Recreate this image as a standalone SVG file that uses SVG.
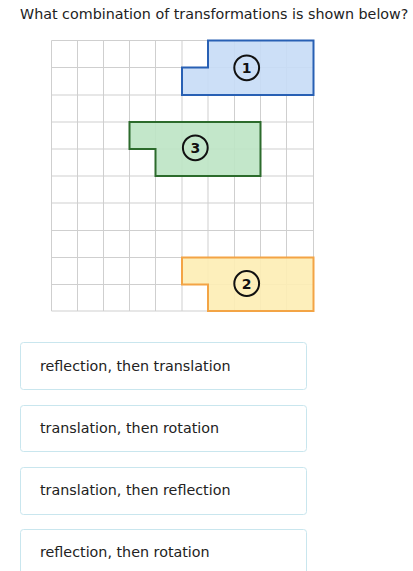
<svg xmlns="http://www.w3.org/2000/svg" width="413" height="571" viewBox="0 0 413 571">
<style>
.t{font-family:"DejaVu Sans",Verdana,sans-serif;font-size:14.3px;fill:#222}
.g line{stroke:#cfcfcf;stroke-width:1}
.lab circle{fill:none;stroke:#111;stroke-width:2}
.lab text{font-family:"DejaVu Sans",Verdana,sans-serif;font-size:14px;font-weight:bold;fill:#111;text-anchor:middle}
.box{fill:#fff;stroke:#c9e6ee;stroke-width:1}
</style>
<rect width="413" height="571" fill="#fff"/>
<text class="t" x="20" y="19">What combination of transformations is shown below?</text>
<g class="g" id="grid">
<line x1="51.5" y1="40.5" x2="51.5" y2="311"/>
<line x1="77.5" y1="40.5" x2="77.5" y2="311"/>
<line x1="103.5" y1="40.5" x2="103.5" y2="311"/>
<line x1="129.5" y1="40.5" x2="129.5" y2="311"/>
<line x1="155.5" y1="40.5" x2="155.5" y2="311"/>
<line x1="182" y1="40.5" x2="182" y2="311"/>
<line x1="208" y1="40.5" x2="208" y2="311"/>
<line x1="234.5" y1="40.5" x2="234.5" y2="311"/>
<line x1="260.5" y1="40.5" x2="260.5" y2="311"/>
<line x1="286.5" y1="40.5" x2="286.5" y2="311"/>
<line x1="313.5" y1="40.5" x2="313.5" y2="311"/>
<line x1="51.5" y1="40.5" x2="313.5" y2="40.5"/>
<line x1="51.5" y1="67.5" x2="313.5" y2="67.5"/>
<line x1="51.5" y1="95" x2="313.5" y2="95"/>
<line x1="51.5" y1="122" x2="313.5" y2="122"/>
<line x1="51.5" y1="149" x2="313.5" y2="149"/>
<line x1="51.5" y1="176" x2="313.5" y2="176"/>
<line x1="51.5" y1="203" x2="313.5" y2="203"/>
<line x1="51.5" y1="230.5" x2="313.5" y2="230.5"/>
<line x1="51.5" y1="257.5" x2="313.5" y2="257.5"/>
<line x1="51.5" y1="284.5" x2="313.5" y2="284.5"/>
<line x1="51.5" y1="311" x2="313.5" y2="311"/>
</g>
<g id="shape1">
<polygon points="208,40.5 313.5,40.5 313.5,95 182,95 182,67.5 208,67.5" fill="#c6dcf6" fill-opacity="0.9" stroke="#2860b4" stroke-width="2"/>
<g class="lab"><circle cx="246.7" cy="67.8" r="12.4"/><text x="246.7" y="72.9">1</text></g>
</g>
<g id="shape3">
<polygon points="129.5,122 260.5,122 260.5,176 155.5,176 155.5,149 129.5,149" fill="#bde4c4" fill-opacity="0.9" stroke="#2c6b2c" stroke-width="2"/>
<g class="lab"><circle cx="195.3" cy="147.8" r="12.4"/><text x="195.3" y="152.9">3</text></g>
</g>
<g id="shape2">
<polygon points="182,257.5 313.5,257.5 313.5,311 208,311 208,284.5 182,284.5" fill="#fdedb4" fill-opacity="0.9" stroke="#f3a445" stroke-width="2"/>
<g class="lab"><circle cx="246.7" cy="283.5" r="12.4"/><text x="246.7" y="288.6">2</text></g>
</g>
<g id="opt1"><rect class="box" x="20.5" y="342.5" width="286" height="47" rx="3"/><text class="t" x="40" y="371">reflection, then translation</text></g>
<g id="opt2"><rect class="box" x="20.5" y="405.5" width="286" height="46" rx="3"/><text class="t" x="40" y="433">translation, then rotation</text></g>
<g id="opt3"><rect class="box" x="20.5" y="467.5" width="286" height="47" rx="3"/><text class="t" x="40" y="495">translation, then reflection</text></g>
<g id="opt4"><rect class="box" x="20.5" y="529.5" width="286" height="47" rx="3"/><text class="t" x="40" y="557">reflection, then rotation</text></g>
</svg>
